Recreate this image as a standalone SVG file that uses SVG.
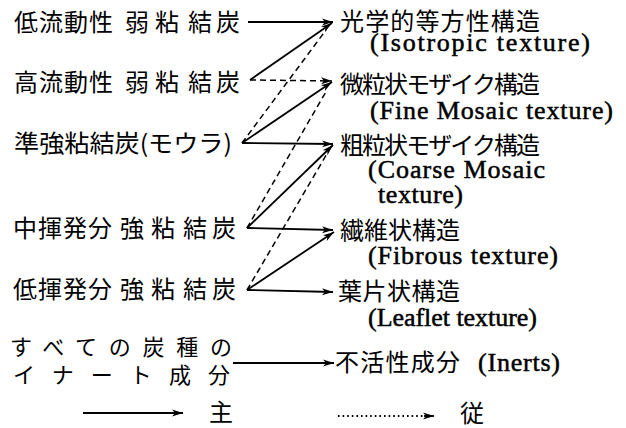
<svg xmlns="http://www.w3.org/2000/svg" width="626" height="428" viewBox="0 0 626 428">
<defs>
<style>
.jp{font-family:"Noto Sans CJK JP","Noto Sans CJK SC",sans-serif;font-size:24px;fill:#000}
.jps{font-family:"Noto Sans CJK JP","Noto Sans CJK SC",sans-serif;font-size:22px;fill:#000}
.en{font-family:"Liberation Serif","Times New Roman",serif;font-size:26px;fill:#000;stroke:#000;stroke-width:0.5}
.ln{stroke:#000;stroke-width:1.8;fill:none}
.ds{stroke:#000;stroke-width:1.5;fill:none;stroke-dasharray:6 4}
.dt{stroke:#000;stroke-width:1.8;fill:none;stroke-dasharray:1.6 3}
</style>
<marker id="ah" markerUnits="userSpaceOnUse" markerWidth="12" markerHeight="8" refX="11" refY="4" orient="auto">
<path d="M0,0.5 L11,4 L0,7.5 L3,4 z" fill="#000"/>
</marker>
</defs>
<rect width="626" height="428" fill="#fff"/>

<g id="s1"><text class="jp" x="14 39 64 89 125 155 188 216" y="31">低流動性弱粘結炭</text></g>
<g id="s2"><text class="jp" x="14 39 64 89 125 155 188 216" y="91">高流動性弱粘結炭</text></g>
<g id="s3"><text class="jp" x="14" y="152" textLength="218" lengthAdjust="spacingAndGlyphs">準強粘結炭(モウラ)</text></g>
<g id="s4"><text class="jp" x="13 38 63 88 120 151 183 212" y="237">中揮発分強粘結炭</text></g>
<g id="s5"><text class="jp" x="13 38 63 88 120 151 183 212" y="298">低揮発分強粘結炭</text></g>
<g id="s6">
<text class="jps" x="10" y="355" textLength="222" lengthAdjust="spacing">すべての炭種の</text>
<text class="jps" x="13" y="383" textLength="217" lengthAdjust="spacing">イナート成分</text>
</g>

<g id="t1">
<text class="jp" x="340" y="30" textLength="200" lengthAdjust="spacing">光学的等方性構造</text>
<text class="en" x="370" y="51" textLength="220" lengthAdjust="spacing">(Isotropic  texture)</text>
</g>
<g id="t2">
<text class="jp" x="340" y="93" textLength="200" lengthAdjust="spacing">微粒状モザイク構造</text>
<text class="en" x="370" y="119" textLength="243" lengthAdjust="spacing">(Fine Mosaic texture)</text>
</g>
<g id="t3">
<text class="jp" x="340" y="154" textLength="200" lengthAdjust="spacing">粗粒状モザイク構造</text>
<text class="en" x="368" y="178" textLength="177" lengthAdjust="spacing">(Coarse  Mosaic</text>
<text class="en" x="378" y="203" textLength="85" lengthAdjust="spacing">texture)</text>
</g>
<g id="t4">
<text class="jp" x="340" y="239" textLength="120" lengthAdjust="spacing">繊維状構造</text>
<text class="en" x="368" y="264" textLength="190" lengthAdjust="spacing">(Fibrous  texture)</text>
</g>
<g id="t5">
<text class="jp" x="338" y="300" textLength="122" lengthAdjust="spacing">葉片状構造</text>
<text class="en" x="368" y="326" textLength="169" lengthAdjust="spacing">(Leaflet  texture)</text>
</g>
<g id="t6">
<text class="jp" x="335" y="371" textLength="125" lengthAdjust="spacing">不活性成分</text>
<text class="en" x="478" y="371" textLength="82" lengthAdjust="spacing">(Inerts)</text>
</g>

<g id="connectors">
<line class="ln" x1="248" y1="22" x2="333" y2="22" marker-end="url(#ah)"/>
<line class="ln" x1="250" y1="80" x2="332" y2="23" marker-end="url(#ah)"/>
<line class="ds" x1="250" y1="80" x2="332" y2="81" marker-end="url(#ah)"/>
<line class="ds" x1="242" y1="143" x2="326" y2="30"/>
<line class="ln" x1="242" y1="143" x2="332" y2="82" marker-end="url(#ah)"/>
<line class="ln" x1="242" y1="143" x2="333" y2="144" marker-end="url(#ah)"/>
<line class="ds" x1="247" y1="228" x2="327" y2="90"/>
<line class="ln" x1="247" y1="228" x2="333" y2="145" marker-end="url(#ah)"/>
<line class="ln" x1="247" y1="228" x2="333" y2="230" marker-end="url(#ah)"/>
<line class="ds" x1="247" y1="290" x2="328" y2="152"/>
<line class="ln" x1="247" y1="290" x2="334" y2="232" marker-end="url(#ah)"/>
<line class="ln" x1="247" y1="290" x2="333" y2="292" marker-end="url(#ah)"/>
<line class="ln" x1="233" y1="363" x2="334" y2="363" marker-end="url(#ah)"/>
</g>

<g id="legend">
<line class="ln" x1="83" y1="413" x2="183" y2="413" marker-end="url(#ah)"/>
<text class="jp" x="209" y="421" font-size="22">主</text>
<line class="dt" x1="338" y1="416" x2="425" y2="416"/>
<line class="ln" x1="424" y1="416" x2="434" y2="416" marker-end="url(#ah)" stroke-width="1.2"/>
<text class="jp" x="460" y="422" font-size="22">従</text>
</g>
</svg>
